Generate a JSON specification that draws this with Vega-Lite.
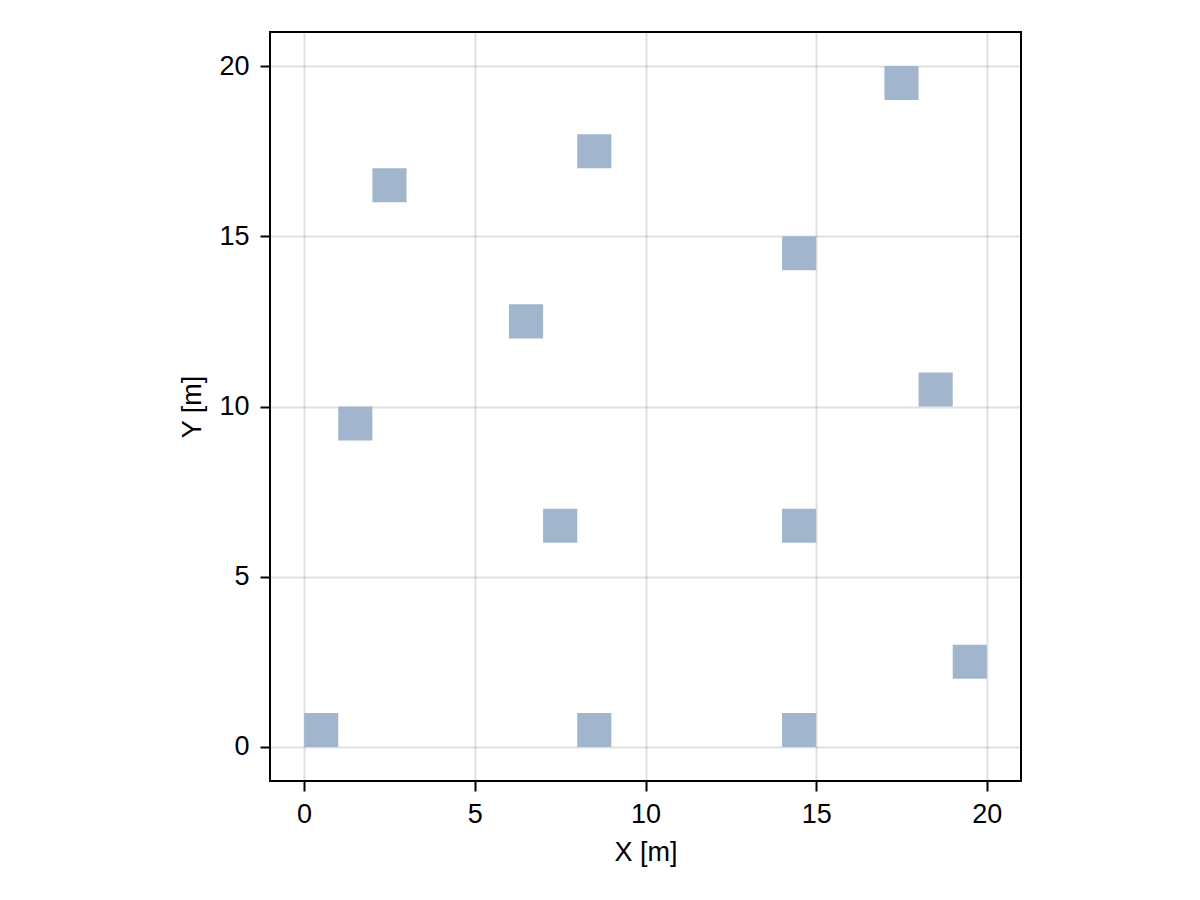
{
  "$schema": "https://vega.github.io/schema/vega-lite/v6.json",
  "width": 751,
  "height": 749,
  "autosize": {"type": "none"},
  "padding": {"left": 270, "top": 32, "right": 179, "bottom": 119},
  "background": "white",
  "data": {"values": [
    {"x": 0, "x2": 1, "y": 0, "y2": 1}, {"x": 8, "x2": 9, "y": 0, "y2": 1}, {"x": 14, "x2": 15, "y": 0, "y2": 1},
    {"x": 19, "x2": 20, "y": 2, "y2": 3}, {"x": 7, "x2": 8, "y": 6, "y2": 7}, {"x": 14, "x2": 15, "y": 6, "y2": 7},
    {"x": 1, "x2": 2, "y": 9, "y2": 10}, {"x": 18, "x2": 19, "y": 10, "y2": 11}, {"x": 6, "x2": 7, "y": 12, "y2": 13},
    {"x": 14, "x2": 15, "y": 14, "y2": 15}, {"x": 2, "x2": 3, "y": 16, "y2": 17}, {"x": 8, "x2": 9, "y": 17, "y2": 18},
    {"x": 17, "x2": 18, "y": 19, "y2": 20}
  ]},
  "mark": {"type": "rect", "color": "#a1b5cc", "opacity": 1},
  "encoding": {
    "x": {"field": "x", "type": "quantitative", "scale": {"domain": [-1, 21], "nice": false, "zero": false},
      "axis": {"title": "X [m]", "values": [0, 5, 10, 15, 20]}},
    "x2": {"field": "x2"},
    "y": {"field": "y", "type": "quantitative", "scale": {"domain": [-1, 21], "nice": false, "zero": false},
      "axis": {"title": "Y [m]", "values": [0, 5, 10, 15, 20]}},
    "y2": {"field": "y2"}
  },
  "config": {
    "font": "Liberation Sans",
    "view": {"stroke": "black", "strokeWidth": 2},
    "axis": {
      "grid": true, "gridColor": "#000000", "gridOpacity": 0.12, "gridWidth": 2,
      "domain": false, "ticks": true, "tickColor": "black", "tickSize": 10, "tickWidth": 2,
      "labelFont": "Liberation Sans", "labelFontSize": 27, "labelColor": "black",
      "titleFont": "Liberation Sans", "titleFontSize": 27, "titleFontWeight": "normal", "titleColor": "black",
      "labelFlush": false
    },
    "axisX": {"titlePadding": 12, "labelPadding": 10},
    "axisY": {"titlePadding": 12, "labelPadding": 11}
  }
}
